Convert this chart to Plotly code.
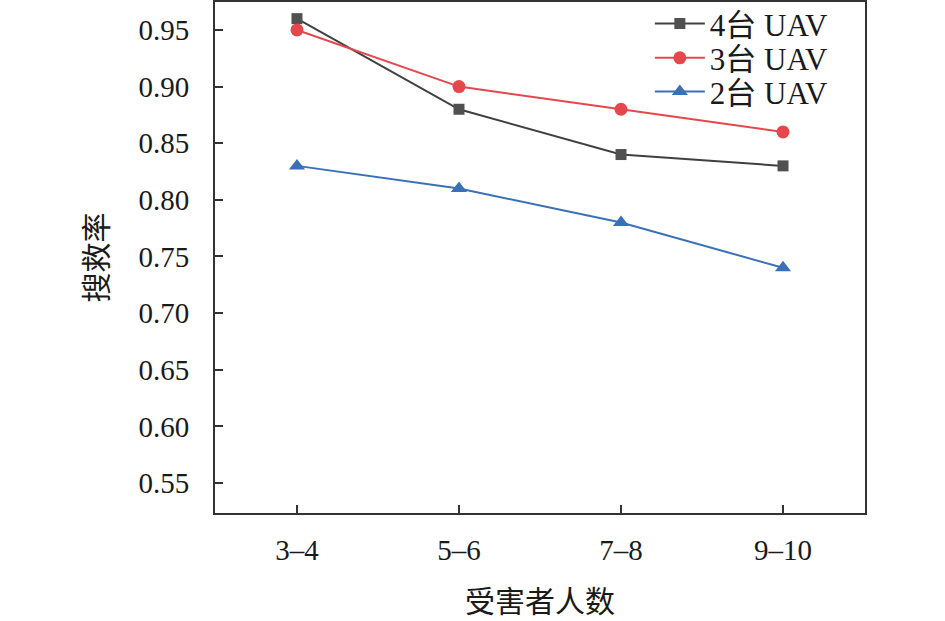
import plotly.graph_objects as go

categories = ["3–4", "5–6", "7–8", "9–10"]
uav4 = [0.96, 0.88, 0.84, 0.83]
uav3 = [0.95, 0.90, 0.88, 0.86]
uav2 = [0.83, 0.81, 0.78, 0.74]
yticks = [0.55, 0.60, 0.65, 0.70, 0.75, 0.80, 0.85, 0.90, 0.95]

FONT = "Liberation Serif, Times New Roman, Noto Sans CJK SC, serif"
x = list(range(len(categories)))

fig = go.Figure()
fig.add_trace(go.Scatter(x=x, y=uav4, mode="lines+markers", name="4台 UAV", legend="legend",
                         line=dict(color="#404040", width=2),
                         marker=dict(symbol="square", size=11, color="#505050")))
fig.add_trace(go.Scatter(x=x, y=uav3, mode="lines+markers", name="3台 UAV", legend="legend2",
                         line=dict(color="#e5474d", width=2),
                         marker=dict(symbol="circle", size=13, color="#e5474d")))
fig.add_trace(go.Scatter(x=x, y=uav2, mode="lines+markers", name="2台 UAV", legend="legend3",
                         line=dict(color="#3a70b8", width=2),
                         marker=dict(symbol="triangle-up", size=14, color="#3a70b8")))

leg_common = dict(xanchor="left", yanchor="middle", bgcolor="rgba(0,0,0,0)",
                  font=dict(family=FONT, size=31, color="#1a1a1a"), itemwidth=50)

fig.update_layout(
    width=945, height=621,
    margin=dict(l=215, r=80, t=2, b=108, autoexpand=False),
    paper_bgcolor="white", plot_bgcolor="white",
    font=dict(family=FONT, size=29, color="#1a1a1a"),
    showlegend=True,
    legend=dict(x=0.669, y=0.957, **leg_common),
    legend2=dict(x=0.669, y=0.890, **leg_common),
    legend3=dict(x=0.669, y=0.824, **leg_common),
    xaxis=dict(range=[-0.506, 3.506], tickmode="array", tickvals=x, ticktext=categories,
               ticks="inside", ticklen=8, tickwidth=2, tickcolor="#333",
               showline=True, linecolor="#333", linewidth=2, mirror=True,
               showgrid=False, zeroline=False, tickfont=dict(size=29),
               ticklabelstandoff=10,
               title=dict(text="受害者人数", font=dict(family=FONT, size=30), standoff=26)),
    yaxis=dict(range=[0.5235, 0.9747], tickmode="array", tickvals=yticks,
               ticktext=[f"{v:.2f}" for v in yticks],
               ticks="inside", ticklen=8, tickwidth=2, tickcolor="#333",
               showline=True, linecolor="#333", linewidth=2, mirror=True,
               showgrid=False, zeroline=False, tickfont=dict(size=29),
               ticklabelstandoff=18,
               title=dict(text="搜救率", font=dict(family=FONT, size=30), standoff=22)),
)

fig.write_html("out.html", config={"displayModeBar": False},
               post_script="document.body.style.margin='0';")
